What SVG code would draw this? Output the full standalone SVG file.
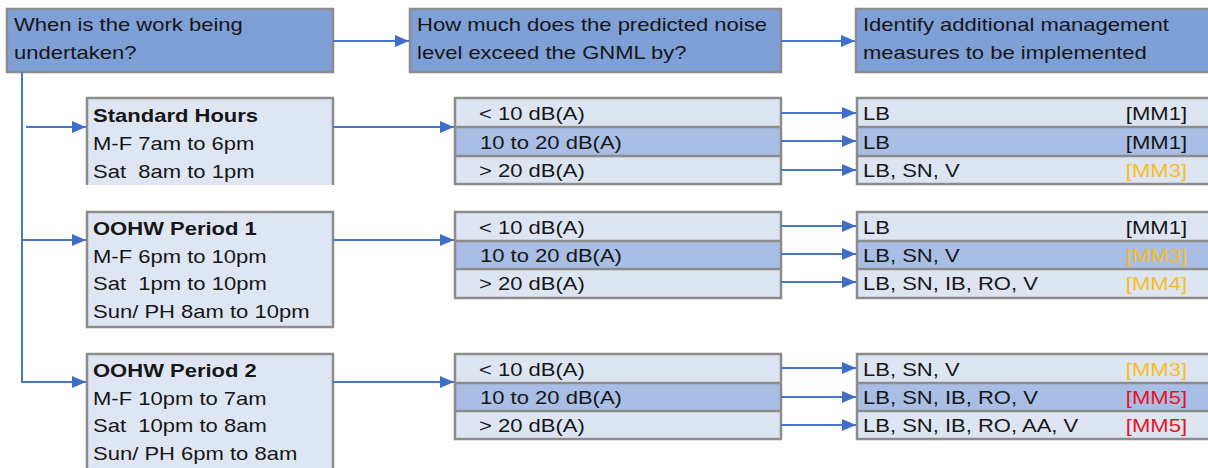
<svg xmlns="http://www.w3.org/2000/svg" width="1208" height="468" viewBox="0 0 1208 468">
  <style>
    .hdr { fill: #7f9fd7; stroke: #8c8c8c; stroke-width: 2.5; }
    .box { fill: #dfe6f3; stroke: #8c8c8c; stroke-width: 2.5; }
    .lite { fill: #dde5f3; }
    .mid { fill: #a9bee5; }
    .frame { fill: none; stroke: #8c8c8c; stroke-width: 2.5; }
    .sep { stroke: #8c8c8c; stroke-width: 2.5; }
    text { font-family: "Liberation Sans", Arial, sans-serif; font-size: 18.5px; fill: #161616; }
    .b { font-weight: bold; }
    .end { text-anchor: end; }
    .amber { fill: #f6bd1e; }
    .red { fill: #e8141e; }
    .conn { fill: none; stroke: #4a76c8; stroke-width: 2; }
  </style>
  <defs>
    <marker id="arrow" markerUnits="userSpaceOnUse" markerWidth="14" markerHeight="12" refX="14" refY="6" orient="auto">
      <path d="M0,0 L14,6 L0,12 z" fill="#3f6ec9"/>
    </marker>
  </defs>

  <rect width="1208" height="468" fill="#ffffff"/>

  <!-- column headings -->
  <g id="header-when">
    <rect class="hdr" x="7" y="9" width="326" height="63"/>
    <text transform="translate(14 31) scale(1.19 1)">When is the work being</text>
    <text transform="translate(14 59) scale(1.19 1)">undertaken?</text>
  </g>
  <g id="header-exceed">
    <rect class="hdr" x="410" y="9" width="371" height="63"/>
    <text transform="translate(417 31) scale(1.19 1)">How much does the predicted noise</text>
    <text transform="translate(417 59) scale(1.19 1)">level exceed the GNML by?</text>
  </g>
  <g id="header-measures">
    <rect class="hdr" x="856" y="9" width="360" height="63"/>
    <text transform="translate(863 31) scale(1.19 1)">Identify additional management</text>
    <text transform="translate(863 59) scale(1.19 1)">measures to be implemented</text>
  </g>

  <!-- working periods -->
  <g id="period-standard">
    <rect x="87" y="98" width="246" height="87" fill="#dfe6f3"/>
    <path class="frame" d="M87,185 V98 H333 V185"/>
    <text class="b" transform="translate(93 122) scale(1.19 1)">Standard Hours</text>
    <text transform="translate(93 150) scale(1.19 1)">M-F 7am to 6pm</text>
    <text transform="translate(93 178) scale(1.19 1)">Sat&#160; 8am to 1pm</text>
  </g>
  <g id="period-oohw1">
    <rect class="box" x="87" y="212" width="246" height="115"/>
    <text class="b" transform="translate(93 235) scale(1.19 1)">OOHW Period 1</text>
    <text transform="translate(93 263) scale(1.19 1)">M-F 6pm to 10pm</text>
    <text transform="translate(93 290) scale(1.19 1)">Sat&#160; 1pm to 10pm</text>
    <text transform="translate(93 318) scale(1.19 1)">Sun/ PH 8am to 10pm</text>
  </g>
  <g id="period-oohw2">
    <rect class="box" x="87" y="354" width="246" height="120"/>
    <text class="b" transform="translate(93 377) scale(1.19 1)">OOHW Period 2</text>
    <text transform="translate(93 405) scale(1.19 1)">M-F 10pm to 7am</text>
    <text transform="translate(93 432) scale(1.19 1)">Sat&#160; 10pm to 8am</text>
    <text transform="translate(93 460) scale(1.19 1)">Sun/ PH 6pm to 8am</text>
  </g>

  <!-- exceedance bands -->
  <g id="exceed-standard">
    <rect class="lite" x="455" y="98" width="326" height="29"/>
    <rect class="mid" x="455" y="127" width="326" height="29"/>
    <rect class="lite" x="455" y="156" width="326" height="28"/>
    <path class="sep" d="M455,127 H781 M455,156 H781"/>
    <rect class="frame" x="455" y="98" width="326" height="86"/>
    <text transform="translate(479 120) scale(1.19 1)">&lt; 10 dB(A)</text>
    <text transform="translate(480 149) scale(1.19 1)">10 to 20 dB(A)</text>
    <text transform="translate(479 177) scale(1.19 1)">&gt; 20 dB(A)</text>
  </g>
  <g id="exceed-oohw1">
    <rect class="lite" x="455" y="212" width="326" height="29"/>
    <rect class="mid" x="455" y="241" width="326" height="28"/>
    <rect class="lite" x="455" y="269" width="326" height="29"/>
    <path class="sep" d="M455,241 H781 M455,269 H781"/>
    <rect class="frame" x="455" y="212" width="326" height="86"/>
    <text transform="translate(479 234) scale(1.19 1)">&lt; 10 dB(A)</text>
    <text transform="translate(480 262) scale(1.19 1)">10 to 20 dB(A)</text>
    <text transform="translate(479 290) scale(1.19 1)">&gt; 20 dB(A)</text>
  </g>
  <g id="exceed-oohw2">
    <rect class="lite" x="455" y="354" width="326" height="29"/>
    <rect class="mid" x="455" y="383" width="326" height="28"/>
    <rect class="lite" x="455" y="411" width="326" height="28"/>
    <path class="sep" d="M455,383 H781 M455,411 H781"/>
    <rect class="frame" x="455" y="354" width="326" height="85"/>
    <text transform="translate(479 376) scale(1.19 1)">&lt; 10 dB(A)</text>
    <text transform="translate(480 404) scale(1.19 1)">10 to 20 dB(A)</text>
    <text transform="translate(479 432) scale(1.19 1)">&gt; 20 dB(A)</text>
  </g>

  <!-- management measures -->
  <g id="measures-standard">
    <rect class="lite" x="857" y="98" width="360" height="29"/>
    <rect class="mid" x="857" y="127" width="360" height="29"/>
    <rect class="lite" x="857" y="156" width="360" height="28"/>
    <path class="sep" d="M857,127 H1208 M857,156 H1208"/>
    <rect class="frame" x="857" y="98" width="360" height="86"/>
    <text transform="translate(863 120) scale(1.19 1)">LB</text>
    <text class="end" transform="translate(1187 120) scale(1.19 1)">[MM1]</text>
    <text transform="translate(863 149) scale(1.19 1)">LB</text>
    <text class="end" transform="translate(1187 149) scale(1.19 1)">[MM1]</text>
    <text transform="translate(863 177) scale(1.19 1)">LB, SN, V</text>
    <text class="end amber" transform="translate(1187 177) scale(1.19 1)">[MM3]</text>
  </g>
  <g id="measures-oohw1">
    <rect class="lite" x="857" y="212" width="360" height="29"/>
    <rect class="mid" x="857" y="241" width="360" height="28"/>
    <rect class="lite" x="857" y="269" width="360" height="29"/>
    <path class="sep" d="M857,241 H1208 M857,269 H1208"/>
    <rect class="frame" x="857" y="212" width="360" height="86"/>
    <text transform="translate(863 234) scale(1.19 1)">LB</text>
    <text class="end" transform="translate(1187 234) scale(1.19 1)">[MM1]</text>
    <text transform="translate(863 262) scale(1.19 1)">LB, SN, V</text>
    <text class="end amber" transform="translate(1187 262) scale(1.19 1)">[MM3]</text>
    <text transform="translate(863 290) scale(1.19 1)">LB, SN, IB, RO, V</text>
    <text class="end amber" transform="translate(1187 290) scale(1.19 1)">[MM4]</text>
  </g>
  <g id="measures-oohw2">
    <rect class="lite" x="857" y="354" width="360" height="29"/>
    <rect class="mid" x="857" y="383" width="360" height="28"/>
    <rect class="lite" x="857" y="411" width="360" height="28"/>
    <path class="sep" d="M857,383 H1208 M857,411 H1208"/>
    <rect class="frame" x="857" y="354" width="360" height="85"/>
    <text transform="translate(863 376) scale(1.19 1)">LB, SN, V</text>
    <text class="end amber" transform="translate(1187 376) scale(1.19 1)">[MM3]</text>
    <text transform="translate(863 404) scale(1.19 1)">LB, SN, IB, RO, V</text>
    <text class="end red" transform="translate(1187 404) scale(1.19 1)">[MM5]</text>
    <text transform="translate(863 432) scale(1.19 1)">LB, SN, IB, RO, AA, V</text>
    <text class="end red" transform="translate(1187 432) scale(1.19 1)">[MM5]</text>
  </g>

  <!-- connectors -->
  <g id="connectors">
    <path class="conn" d="M333,41 H409" marker-end="url(#arrow)"/>
    <path class="conn" d="M781,41 H855" marker-end="url(#arrow)"/>
    <path class="conn" d="M22,72 V382 H86" marker-end="url(#arrow)"/>
    <path class="conn" d="M26,127 H86" marker-end="url(#arrow)"/>
    <path class="conn" d="M22,240 H86" marker-end="url(#arrow)"/>
    <path class="conn" d="M333,127 H454" marker-end="url(#arrow)"/>
    <path class="conn" d="M333,240 H454" marker-end="url(#arrow)"/>
    <path class="conn" d="M333,382 H454" marker-end="url(#arrow)"/>
    <path class="conn" d="M781,113 H856" marker-end="url(#arrow)"/>
    <path class="conn" d="M781,141 H856" marker-end="url(#arrow)"/>
    <path class="conn" d="M781,170 H856" marker-end="url(#arrow)"/>
    <path class="conn" d="M781,226 H856" marker-end="url(#arrow)"/>
    <path class="conn" d="M781,254 H856" marker-end="url(#arrow)"/>
    <path class="conn" d="M781,282 H856" marker-end="url(#arrow)"/>
    <path class="conn" d="M781,368 H856" marker-end="url(#arrow)"/>
    <path class="conn" d="M781,397 H856" marker-end="url(#arrow)"/>
    <path class="conn" d="M781,425 H856" marker-end="url(#arrow)"/>
  </g>
</svg>
